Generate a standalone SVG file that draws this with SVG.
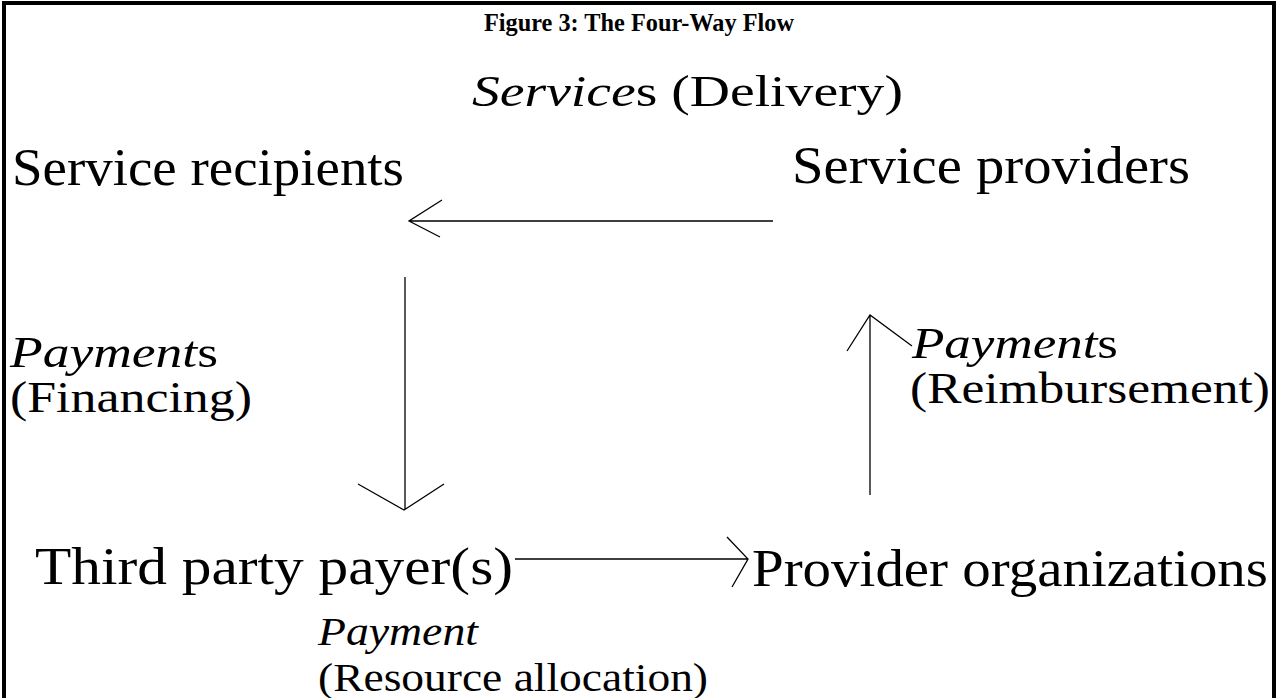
<svg xmlns="http://www.w3.org/2000/svg" width="1278" height="698" viewBox="0 0 1278 698">
<style>
.t{font-family:"Liberation Serif","Times New Roman",serif;fill:#000}
.i{font-style:italic}
.c{stroke:#000;stroke-width:1.3;fill:none}
</style>
<rect x="0" y="0" width="1278" height="698" fill="#fff"/>
<rect x="4" y="3" width="1270" height="720" fill="none" stroke="#000" stroke-width="4"/>
<g id="title"><text class="t" x="639" y="31" font-size="25" font-weight="bold" text-anchor="middle" textLength="310" lengthAdjust="spacingAndGlyphs">Figure 3: The Four-Way Flow</text></g>
<g id="services-label"><text class="t" x="472" y="106" font-size="44" textLength="431" lengthAdjust="spacingAndGlyphs"><tspan class="i">Service</tspan>s (Delivery)</text></g>
<g id="recipients"><text class="t" x="12" y="185" font-size="52" textLength="392" lengthAdjust="spacingAndGlyphs">Service recipients</text></g>
<g id="providers"><text class="t" x="792" y="183" font-size="52" textLength="398" lengthAdjust="spacingAndGlyphs">Service providers</text></g>
<g id="financing-label"><text class="t" x="10" y="367" font-size="44" textLength="208" lengthAdjust="spacingAndGlyphs"><tspan class="i">Payment</tspan>s</text><text class="t" x="10" y="412" font-size="44" textLength="242" lengthAdjust="spacingAndGlyphs">(Financing)</text></g>
<g id="reimb-label"><text class="t" x="912" y="358" font-size="44" textLength="206" lengthAdjust="spacingAndGlyphs"><tspan class="i">Payment</tspan>s</text><text class="t" x="910" y="403" font-size="44" textLength="360" lengthAdjust="spacingAndGlyphs">(Reimbursement)</text></g>
<g id="third-party"><text class="t" x="35" y="584" font-size="52" textLength="478" lengthAdjust="spacingAndGlyphs">Third party payer(s)</text></g>
<g id="provider-orgs"><text class="t" x="752" y="586" font-size="52" textLength="516" lengthAdjust="spacingAndGlyphs">Provider organizations</text></g>
<g id="allocation-label"><text class="t i" x="318" y="645" font-size="41" textLength="160" lengthAdjust="spacingAndGlyphs">Payment</text><text class="t" x="318" y="691" font-size="41" textLength="390" lengthAdjust="spacingAndGlyphs">(Resource allocation)</text></g>
<g id="connectors">
<path class="c" d="M773 221H409M442 200L409 221L440 237"/>
<path class="c" d="M405 277V509M358 484L404 510L444 484"/>
<path class="c" d="M515 559H748M727 537L748 559L732 587"/>
<path class="c" d="M870 495V315M847 351L870 315L912 346"/>
</g>
</svg>
